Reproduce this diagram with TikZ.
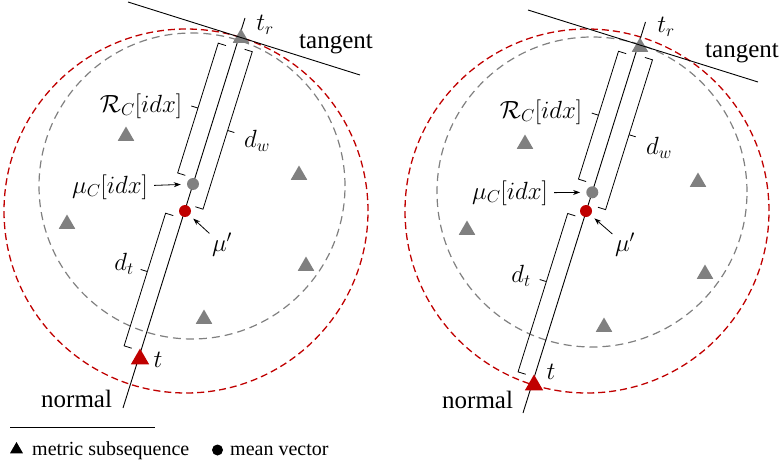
\documentclass[tikz,border=0pt]{standalone}
\usepackage{fontspec}
\setmainfont{Liberation Serif}
\usetikzlibrary{calc,shapes.geometric,arrows.meta}
\definecolor{myred}{HTML}{C00000}
\definecolor{mygray}{HTML}{808080}
\newcommand{\mybrk}[6]{%
  \coordinate (bm) at ($(#1)!#6!(#2)$);
  \draw[brk] ($(#1)!#5pt-8pt!#3:(#2)$) -- ($(#1)!#5pt!#3:(#2)$) -- ($(#2)!#5pt!#4:(#1)$) -- ($(#2)!#5pt-8pt!#4:(#1)$)
     ($(bm)!#5pt!#3:(#2)$) -- ($(bm)!#5pt+7pt!#3:(#2)$);
}
\tikzset{
 brk/.style={draw=black, line width=0.8pt},
 gtri/.style={regular polygon, regular polygon sides=3, fill=mygray, inner sep=0pt, minimum size=19pt},
 rtri/.style={gtri, fill=myred, minimum size=21pt},
 gdot/.style={circle, fill=mygray, inner sep=0pt, minimum size=12pt},
 rdot/.style={gdot, fill=myred},
 lab/.style={inner sep=1pt, font=\fontsize{24}{28}\selectfont},
 wrd/.style={inner sep=0pt, anchor=base west, font=\fontsize{25}{30}\selectfont},
 legt/.style={inner sep=0pt, anchor=base west, font=\fontsize{20}{24}\selectfont},
 arr/.style={-{Stealth[length=7pt,width=5pt]}, line width=0.8pt},
 redc/.style={draw=myred, line width=1.3pt, dash pattern=on 7pt off 4pt},
 grayc/.style={draw=mygray, line width=1.2pt, dash pattern=on 8pt off 5pt},
 thinl/.style={line width=0.9pt},
}
\begin{document}
\begin{tikzpicture}[x=1pt,y=-1pt]
\useasboundingbox (0,0) rectangle (780,463);
% circles
\draw[redc] (186,211) circle[radius=182pt];
\draw[grayc] (192,186) circle[radius=153pt];
\draw[redc] (587,211) circle[radius=182pt];
\draw[grayc] (592,192) circle[radius=155pt];
% normal lines
\coordinate (ltop) at (245,18); \coordinate (lbot) at (123,408);
\coordinate (rtop) at (645.5,22); \coordinate (rbot) at (523,413);
\draw[thinl] (ltop) -- (lbot);
\draw[thinl] (rtop) -- (rbot);
% brackets left
\coordinate (l1a) at ($(ltop)!32pt!(lbot)$); \coordinate (l1b) at ($(ltop)!168pt!(lbot)$);
\mybrk{l1a}{l1b}{-90}{90}{18}{0.5}
\coordinate (l2a) at ($(ltop)!30pt!(lbot)$); \coordinate (l2b) at ($(ltop)!195pt!(lbot)$);
\mybrk{l2a}{l2b}{90}{-90}{17}{0.5}
\coordinate (l3a) at ($(ltop)!210pt!(lbot)$); \coordinate (l3b) at ($(ltop)!349pt!(lbot)$);
\mybrk{l3a}{l3b}{-90}{90}{17.5}{0.44}
% brackets right
\coordinate (r1a) at ($(rtop)!36pt!(rbot)$); \coordinate (r1b) at ($(rtop)!170pt!(rbot)$);
\mybrk{r1a}{r1b}{-90}{90}{17}{0.5}
\coordinate (r2a) at ($(rtop)!34pt!(rbot)$); \coordinate (r2b) at ($(rtop)!191pt!(rbot)$);
\mybrk{r2a}{r2b}{90}{-90}{18}{0.5}
\coordinate (r3a) at ($(rtop)!206pt!(rbot)$); \coordinate (r3b) at ($(rtop)!372pt!(rbot)$);
\mybrk{r3a}{r3b}{-90}{90}{17}{0.43}
% gray triangles
\node[gtri] (gl1) at (126,136) {};
\node[gtri] (gl2) at (299,175) {};
\node[gtri] (gl3) at (67,224) {};
\node[gtri] (gl4) at (306,266) {};
\node[gtri] (gl5) at (204,319) {};
\node[gtri] (gr1) at (525,144) {};
\node[gtri] (gr2) at (698,182) {};
\node[gtri] (gr3) at (467,230) {};
\node[gtri] (gr4) at (705,274) {};
\node[gtri] (gr5) at (604,327) {};
% key points
\node[gtri] (tr1) at (241,38) {};
\node[gdot] (muC1) at (193,184) {};
\node[rdot] (mup1) at (185,211) {};
\node[rtri] (t1) at (140,359) {};
\node[gtri] (tr2) at (640,47) {};
\node[gdot] (muC2) at (592.3,192.3) {};
\node[rdot] (mup2) at (586,211) {};
\node[rtri] (t2) at (534,385) {};
% tangents
\coordinate (lt1) at (128,2); \coordinate (lt2) at (360,75);
\coordinate (rt1) at (528,10); \coordinate (rt2) at (758,82);
\draw[thinl] (lt1) -- (lt2);
\draw[thinl] (rt1) -- (rt2);
% labels left
\node[lab] (trl1) at (265,25) {$t_r$};
\node[lab] (Rl1) at (141,106) {$\mathcal{R}_C[idx]$};
\node[lab] (dwl1) at (257,141) {$d_w$};
\node[lab] (muCl1) at (110,187) {$\mu_C[idx]$};
\node[lab] (mupl1) at (222,245) {$\mu'$};
\node[lab] (dtl1) at (124,264) {$d_t$};
\node[lab] (tl1) at (158,360) {$t$};
\node[wrd] (tanl1) at (299,48) {tangent};
\node[wrd] (norl1) at (41,407) {normal};
% labels right
\node[lab] (trl2) at (666,27) {$t_r$};
\node[lab] (Rl2) at (541,112) {$\mathcal{R}_C[idx]$};
\node[lab] (dwl2) at (659,148) {$d_w$};
\node[lab] (muCl2) at (510,193) {$\mu_C[idx]$};
\node[lab] (mupl2) at (625,245) {$\mu'$};
\node[lab] (dtl2) at (521,276) {$d_t$};
\node[lab] (tl2) at (551,372) {$t$};
\node[wrd] (tanl2) at (705,57) {tangent};
\node[wrd] (norl2) at (442,408) {normal};
% arrows
\draw[arr, shorten <=5pt, shorten >=6pt] (muCl1) -- (muC1);
\draw[arr, shorten <=2pt, shorten >=5pt] (mupl1) -- (mup1);
\draw[arr, shorten <=5pt, shorten >=6pt] (muCl2) -- (muC2);
\draw[arr, shorten <=2pt, shorten >=5pt] (mupl2) -- (mup2);
% legend
\coordinate (leg1) at (10,427); \coordinate (leg2) at (155,427);
\draw[line width=0.8pt] (leg1) -- (leg2);
\node[regular polygon, regular polygon sides=3, fill=black, minimum size=15pt, inner sep=0pt] (legtri) at (16.5,449.5) {};
\node[legt] (legtxt1) at (32,455) {metric subsequence};
\node[circle, fill=black, minimum size=11pt, inner sep=0pt] (legdot) at (217.5,450) {};
\node[legt] (legtxt2) at (230,455) {mean vector};
\end{tikzpicture}
\end{document}
